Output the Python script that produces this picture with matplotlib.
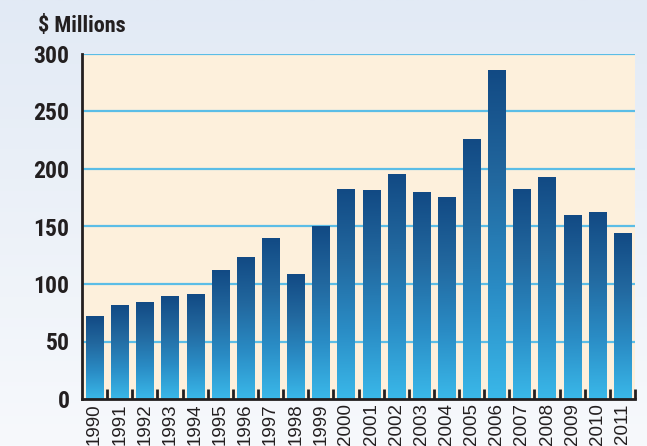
import matplotlib.pyplot as plt
import numpy as np
from matplotlib import font_manager
from matplotlib.colors import LinearSegmentedColormap

# data
years = [str(y) for y in range(1990, 2012)]
values = [72, 81, 83.5, 89, 91, 112, 123, 140, 108, 150, 182, 181,
          195, 180, 175.5, 226, 286, 182.5, 193, 160, 162, 144]
yticks = [0, 50, 100, 150, 200, 250, 300]

# prefer a condensed face if one is around, else Liberation Sans
names = {f.name for f in font_manager.fontManager.ttflist}
family = 'Liberation Sans'
for cand in ['Roboto Condensed', 'Open Sans Condensed', 'Liberation Sans Narrow', 'Arial Narrow']:
    if cand in names:
        family = cand
        break
condensed = family != 'Liberation Sans'
plt.rcParams['font.family'] = [family, 'DejaVu Sans']

fig = plt.figure(figsize=(6.47, 4.46), dpi=100)

# light blue page background, fading downwards
bg = fig.add_axes([0, 0, 1, 1], zorder=-10)
bg_cmap = LinearSegmentedColormap.from_list('bg', ['#f7f9fc', '#e2eaf5'])
bg.imshow(np.linspace(0, 1, 256).reshape(-1, 1), aspect='auto', cmap=bg_cmap,
          extent=[0, 1, 0, 1], origin='lower')
bg.axis('off')

ax = fig.add_axes([82 / 647, 1 - 399 / 446, (635 - 82) / 647, (399 - 54) / 446])
ax.set_facecolor('#fdf0dc')

bar_cmap = LinearSegmentedColormap.from_list('bar', ['#3ab8e9', '#2a8cc5', '#22689f', '#124a84'])
grad = np.linspace(0, 1, 256).reshape(-1, 1)
w = 0.68
x = np.arange(len(years))
for xi, v in zip(x, values):
    ax.imshow(grad, aspect='auto', cmap=bar_cmap, origin='lower',
              extent=[xi - w / 2, xi + w / 2, 0, v], zorder=3)

for y in yticks[1:]:
    ax.axhline(y, color='#5bbde6', lw=1.6, zorder=1)

ax.set_xlim(-0.5, len(years) - 0.5)
ax.set_ylim(0, 300)

for s in ['top', 'right']:
    ax.spines[s].set_visible(False)
for s in ['left', 'bottom']:
    ax.spines[s].set_linewidth(2)
    ax.spines[s].set_color('#231f20')
    ax.spines[s].set_zorder(5)

ysize = 17 if condensed else 15
ax.set_yticks(yticks)
ax.set_yticklabels([str(t) for t in yticks], fontsize=ysize, fontweight='bold', color='#231f20')
ax.tick_params(axis='y', length=0, pad=9)

# year labels are a regular-width face in the original
ax.set_xticks(x)
ax.set_xticklabels(years, rotation=90, fontsize=13.5, color='#231f20',
                   family=['Liberation Sans', 'DejaVu Sans'])
ax.tick_params(axis='x', which='major', length=0, pad=3)
ax.set_xticks(np.arange(len(years)) + 0.5, minor=True)
ax.tick_params(axis='x', which='minor', direction='in', length=7, width=2, color='#231f20')

fig.text(38 / 647, 1 - 32 / 446, '$ Millions', fontsize=16 if condensed else 14,
         fontweight='bold', color='#231f20')

fig.savefig('out.png', dpi=100)
